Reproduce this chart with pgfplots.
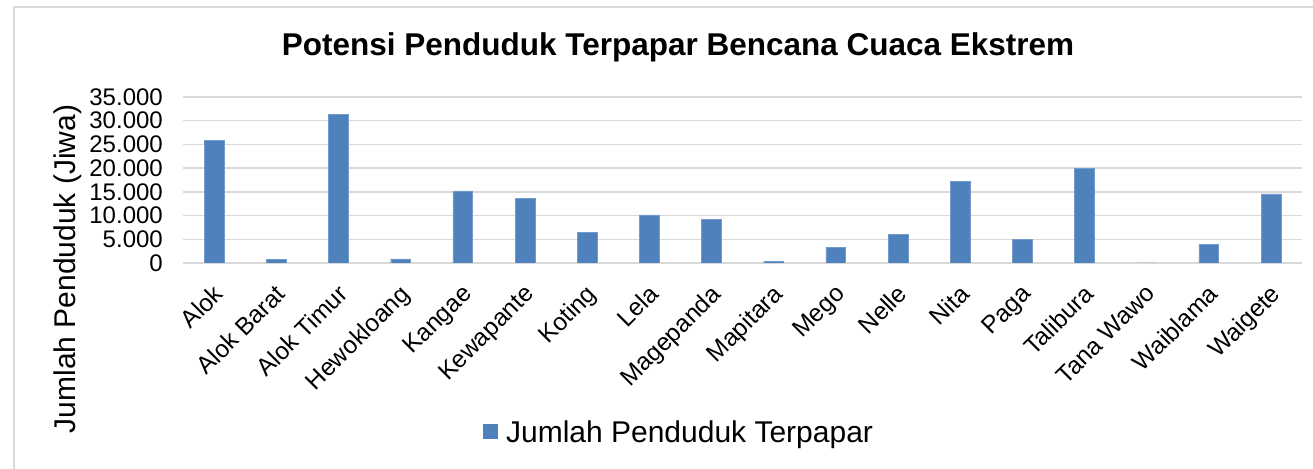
\documentclass[border=0pt]{standalone}
\usepackage{pgfplots}
\pgfplotsset{compat=1.18}
\usepackage{fontspec}
\setmainfont{Liberation Sans}
\definecolor{barblue}{HTML}{4F81BD}
\definecolor{gridgray}{HTML}{D9D9D9}
\begin{document}
\begin{tikzpicture}[x=1pt,y=1pt]
\useasboundingbox (0,0) rectangle (1313,468);
\fill[white] (0,0) rectangle (1313,468);
\draw[gridgray, line width=1.5pt] (14,-5) -- (14,461) -- (1320,461);
\node[font=\bfseries\fontsize{31.5}{36}\selectfont] at (678,421) {Potensi Penduduk Terpapar Bencana Cuaca Ekstrem};
\begin{axis}[
  at={(183pt,205pt)}, anchor=south west,
  scale only axis, width=1119pt, height=166pt,
  xmin=-0.5, xmax=17.5, ymin=0, ymax=35000,
  xtick={0,...,17},
  xticklabels={Alok,Alok Barat,Alok Timur,Hewokloang,Kangae,Kewapante,Koting,Lela,Magepanda,Mapitara,Mego,Nelle,Nita,Paga,Talibura,Tana Wawo,Waiblama,Waigete},
  ytick={0,5000,...,35000},
  scaled y ticks=false,
  yticklabel style={/pgf/number format/fixed, /pgf/number format/precision=0, /pgf/number format/1000 sep={.}, /pgf/number format/assume math mode=true},
  yticklabel style={font=\fontsize{24}{27}\selectfont, inner sep=0pt, xshift=-20pt, anchor=east},
  xticklabel style={font=\fontsize{24.5}{27}\selectfont, xshift=-2pt, yshift=-20pt, rotate=45, anchor=north east, inner sep=0pt},
  axis x line*=bottom, axis y line*=left,
  y axis line style={draw=none},
  x axis line style={gridgray, line width=1.5pt, -},
  ymajorgrids, grid style={gridgray, line width=1.5pt},
  major tick length=0pt,
  ylabel={Jumlah Penduduk (Jiwa)},
  every axis y label/.style={at={(axis description cs:-0.1027,-0.036)}, anchor=center, rotate=90, font=\fontsize{30}{34}\selectfont},
  legend style={at={(axis description cs:0.4424,-1.018)}, anchor=center, draw=none, fill=none, font=\fontsize{30}{34}\selectfont, inner sep=0pt, nodes={inner sep=0pt}},
  legend image code/.code={\fill[barblue, draw=none] (0pt,-7.5pt) rectangle (15pt,7.5pt); \path[draw=none, fill=none] (15pt,-0.1pt) rectangle (23pt,0.1pt);},
]
\addplot[ybar, bar width=19.7pt, fill=barblue, draw=barblue!80!white] coordinates {
(0,25850) (1,700) (2,31300) (3,850) (4,15200) (5,13700) (6,6500) (7,10150) (8,9250) (9,350) (10,3300) (11,6100) (12,17150) (13,5050) (14,19900) (15,0) (16,3900) (17,14550)
};
\addlegendentry{Jumlah Penduduk Terpapar}
\end{axis}
\end{tikzpicture}
\end{document}
